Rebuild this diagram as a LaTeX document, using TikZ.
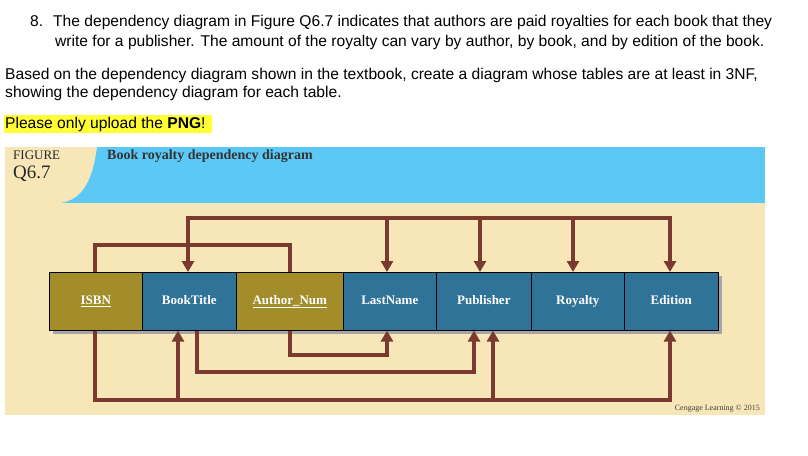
\documentclass[tikz,border=0pt]{standalone}
\usepackage{fontspec}
\setmainfont{Liberation Sans}
\newfontfamily\figfont{Liberation Serif}
\usetikzlibrary{arrows.meta}
\definecolor{band}{HTML}{5BC8F5}
\definecolor{tan}{HTML}{F6E6B8}
\definecolor{keyc}{HTML}{A38D2A}
\definecolor{attc}{HTML}{2F7398}
\definecolor{arr}{HTML}{7B3A30}
\definecolor{hl}{HTML}{FFFF33}
\tikzset{
 txt/.style={anchor=west,inner sep=0pt,font=\fontsize{15.6pt}{17pt}\selectfont},
 fld/.style={draw=black,line width=0.6pt,minimum height=58pt,inner sep=0pt,text=white,text height=9pt,text depth=3pt,font=\figfont\fontsize{13pt}{14pt}\selectfont\bfseries},
 dep/.style={draw=arr,line width=4pt},
 deparr/.style={dep,-{Triangle[width=12pt,length=11pt]}}
}
\begin{document}
\begin{tikzpicture}[x=1pt,y=-1pt]
\useasboundingbox (0,0) rectangle (808,455);
\fill[white] (0,0) rectangle (808,455);
\node[txt] (t1) at (30,22) {8.\hspace{10pt}The dependency diagram in Figure Q6.7 indicates that authors are paid royalties for each book that they};
\node[txt] (t2) at (55,42) {write for a publisher. The amount of the royalty can vary by author, by book, and by edition of the book.};
\node[txt] (t3) at (5,75) {Based on the dependency diagram shown in the textbook, create a diagram whose tables are at least in 3NF,};
\node[txt] (t4) at (5,93) {showing the dependency diagram for each table.};
\fill[hl] (4,115) rectangle (212,133);
\node[txt] (t5) at (5,124) {Please only upload the \textbf{PNG}!};
% figure panel
\fill[tan] (5,203) rectangle (765,415);
\fill[band] (5,147) rectangle (765,203);
\fill[tan] (5,147) -- (97,147) .. controls (92,185) and (80,200) .. (60,203) -- (5,203) -- cycle;
\node[anchor=north west,inner sep=0pt,font=\figfont\fontsize{13pt}{14pt}\selectfont,text=black!85] (fig) at (13,151) {FIGURE};
\node[anchor=north west,inner sep=0pt,font=\figfont\fontsize{19pt}{20pt}\selectfont,text=black!85] (q) at (13,166) {Q6.7};
\node[anchor=north west,inner sep=0pt,font=\figfont\fontsize{14pt}{16pt}\selectfont\bfseries,text=black!80] (title) at (107,150) {Book royalty dependency diagram};
\node[anchor=south east,inner sep=0pt,font=\figfont\fontsize{8pt}{9pt}\selectfont,text=black!75] (cr) at (760,412) {Cengage Learning © 2015};
% fields
\fill[black!35] (53,276) rectangle (722,334);
\node[fld,fill=keyc,minimum width=93pt,anchor=north west] (isbn) at (49,272) {\underline{ISBN}};
\node[fld,fill=attc,minimum width=94pt,anchor=north west] (bt) at (142,272) {BookTitle};
\node[fld,fill=keyc,minimum width=107pt,anchor=north west] (an) at (236,272) {\underline{Author\_Num}};
\node[fld,fill=attc,minimum width=93pt,anchor=north west] (ln) at (343,272) {LastName};
\node[fld,fill=attc,minimum width=95pt,anchor=north west] (pub) at (436,272) {Publisher};
\node[fld,fill=attc,minimum width=93pt,anchor=north west] (roy) at (531,272) {Royalty};
\node[fld,fill=attc,minimum width=94pt,anchor=north west] (ed) at (624,272) {Edition};
% top dependencies
\draw[dep] (isbn.north -| 95,0) |- (290,245) -- (an.north -| 290,0);
\draw[deparr] (188,245) |- (670,218) -- (ed.north -| 670,0);
\draw[deparr] (188,220) -- (bt.north -| 188,0);
\draw[deparr] (387,218) -- (ln.north -| 387,0);
\draw[deparr] (480,218) -- (pub.north -| 480,0);
\draw[deparr] (573,218) -- (roy.north -| 573,0);
% bottom dependencies
\draw[deparr] (an.south -| 290,0) |- (387,355) -- (ln.south -| 387,0);
\draw[deparr] (bt.south -| 197,0) |- (474,372) -- (pub.south -| 474,0);
\draw[deparr] (isbn.south -| 95,0) |- (670,400) -- (ed.south -| 670,0);
\draw[deparr] (178,400) -- (bt.south -| 178,0);
\draw[deparr] (493,400) -- (pub.south -| 493,0);
\end{tikzpicture}
\end{document}
